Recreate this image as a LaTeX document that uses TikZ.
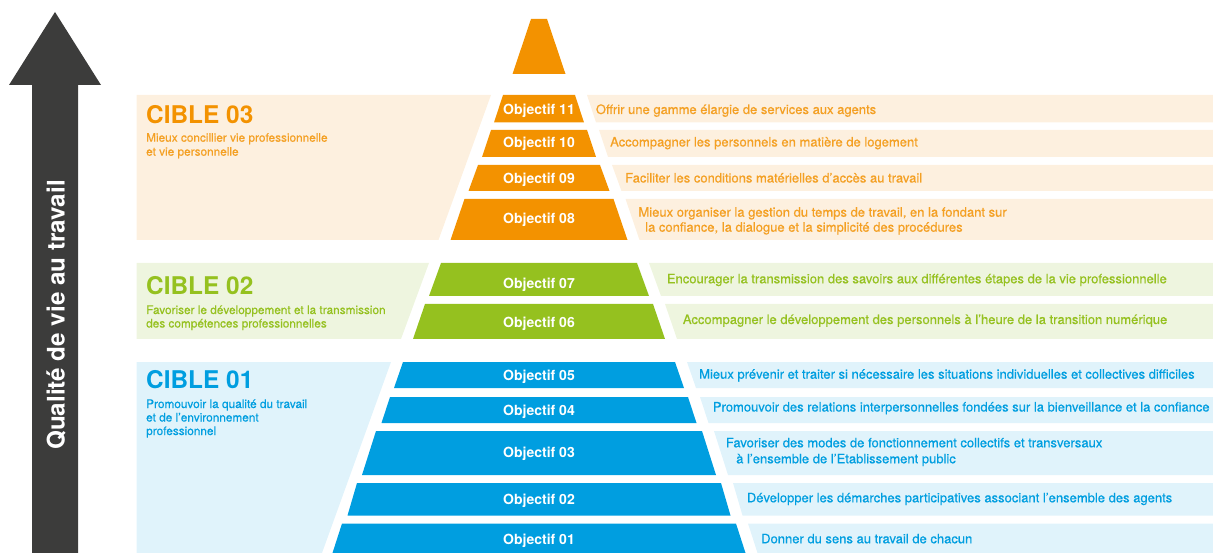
\documentclass[tikz,border=0pt]{standalone}
\usepackage{fontspec}
\setmainfont{TeX Gyre Heros}
\newfontfamily\medfont{TeX Gyre Heros}[FakeBold=0.5]
\definecolor{orD}{HTML}{F39200}
\definecolor{orT}{HTML}{F4A023}
\definecolor{orL}{HTML}{FDF0DF}
\definecolor{grD}{HTML}{95C11F}
\definecolor{grT}{HTML}{95C11F}
\definecolor{grL}{HTML}{EEF5DF}
\definecolor{blD}{HTML}{009EE0}
\definecolor{blT}{HTML}{009EE0}
\definecolor{blL}{HTML}{E0F3FB}
\definecolor{arrowgray}{HTML}{3C3C3B}
\tikzset{
  objlabel/.style={font=\fontsize{14}{16}\selectfont\bfseries, text=white, inner sep=0pt, anchor=base},
  rowtext/.style={font=\medfont\fontsize{13}{15}\selectfont, inner sep=0pt, anchor=base west},
  cibletitle/.style={font=\fontsize{24.4}{27}\selectfont\bfseries, inner sep=0pt, anchor=base west},
  cibletext/.style={font=\medfont\fontsize{11.8}{14}\selectfont, inner sep=0pt, anchor=base west},
}
% #1 name, #2 ytop, #3 ybot, #4 half width top, #5 half width bottom, #6 dark, #7 light, #8 label, #9 label baseline
\newcommand\pyrlayer[9]{%
  \fill[#6] ({539-#4},#2) -- ({539+#4},#2) -- ({539+#5},#3) -- ({539-#5},#3) -- cycle;
  \fill[#7] ({539+#4+12},#2) -- (1213,#2) -- (1213,#3) -- ({539+#5+12},#3) -- cycle;
  \node[objlabel] (#1) at (539,#9) {#8};
}
\begin{document}
\begin{tikzpicture}[x=1pt,y=-1pt]
\useasboundingbox (0,0) rectangle (1213,553);
% arrow
\fill[arrowgray] (55,12) -- (101,85) -- (78,85) -- (78,553) -- (32,553) -- (32,85) -- (9,85) -- cycle;
\node[font=\fontsize{24.2}{27}\selectfont\bfseries, text=white, rotate=90, inner sep=0pt] (axis) at (56,315) {Qualité de vie au travail};
% left bands
\fill[orL] (136.7,95) -- (491,95) -- (438.5,240) -- (136.7,240) -- cycle;
\fill[grL] (136.7,263) -- (429,263) -- (401,339) -- (136.7,339) -- cycle;
\fill[blL] (136.7,362) -- (391,362) -- (322,553) -- (136.7,553) -- cycle;
% apex
\fill[orD] (531,19) -- (547,19) -- (565.5,74) -- (512.5,74) -- cycle;
% layers
\pyrlayer{o11}{95}{122.5}{36}{45}{orD}{orL}{Objectif 11}{115}
\pyrlayer{o10}{130}{157}{48}{57}{orD}{orL}{Objectif 10}{147.3}
\pyrlayer{o09}{165}{191}{61}{70.5}{orD}{orL}{Objectif 09}{184}
\pyrlayer{o08}{199}{240}{74.5}{88.5}{orD}{orL}{Objectif 08}{224}
\pyrlayer{o07}{263}{296}{98}{110}{grD}{grL}{Objectif 07}{288.3}
\pyrlayer{o06}{304}{339}{114}{126}{grD}{grL}{Objectif 06}{327.3}
\pyrlayer{o05}{362}{388}{136}{145}{blD}{blL}{Objectif 05}{380.7}
\pyrlayer{o04}{397}{423}{149}{157.5}{blD}{blL}{Objectif 04}{415.7}
\pyrlayer{o03}{431}{475}{163}{177}{blD}{blL}{Objectif 03}{457.3}
\pyrlayer{o02}{483}{515.5}{182}{191.5}{blD}{blL}{Objectif 02}{504}
\pyrlayer{o01}{523.5}{553}{197}{206.5}{blD}{blL}{Objectif 01}{544.7}
% cible texts
\node[cibletitle, text=orD] (c3) at (146,123.3) {CIBLE 03};
\node[cibletext, text=orT] (c3a) at (146,141.7) {Mieux concillier vie professionnelle};
\node[cibletext, text=orT] (c3b) at (146,155.7) {et vie personnelle};
\node[cibletitle, text=grD] (c2) at (146,294.3) {CIBLE 02};
\node[cibletext, text=grT] (c2a) at (146,314) {Favoriser le développement et la transmission};
\node[cibletext, text=grT] (c2b) at (146,327.5) {des compétences professionnelles};
\node[cibletitle, text=blD] (c1) at (146,388.3) {CIBLE 01};
\node[cibletext, text=blT] (c1a) at (146,408) {Promouvoir la qualité du travail};
\node[cibletext, text=blT] (c1b) at (146,421.5) {et de l’environnement};
\node[cibletext, text=blT] (c1c) at (146,435) {professionnel};
% row texts
\node[rowtext, text=orT] (t11) at (595.7,114) {Offrir une gamme élargie de services aux agents};
\node[rowtext, text=orT] (t10) at (610,146.5) {Accompagner les personnels en matière de logement};
\node[rowtext, text=orT] (t09) at (625,182.5) {Faciliter les conditions matérielles d’accès au travail};
\node[rowtext, text=orT] (t08a) at (638.3,216.7) {Mieux organiser la gestion du temps de travail, en la fondant sur};
\node[rowtext, text=orT] (t08b) at (645,231.7) {la confiance, la dialogue et la simplicité des procédures};
\node[rowtext, text=grT] (t07) at (666.7,283.3) {Encourager la transmission des savoirs aux différentes étapes de la vie professionnelle};
\node[rowtext, text=grT] (t06) at (682.7,324) {Accompagner le développement des personnels à l’heure de la transition numérique};
\node[rowtext, text=blT] (t05) at (699,378.7) {Mieux prévenir et traiter si nécessaire les situations individuelles et collectives difficiles};
\node[rowtext, text=blT] (t04) at (712.7,411.5) {Promouvoir des relations interpersonnelles fondées sur la bienveillance et la confiance};
\node[rowtext, text=blT] (t03a) at (725.7,447.3) {Favoriser des modes de fonctionnement collectifs et transversaux};
\node[rowtext, text=blT] (t03b) at (736,463.3) {à l’ensemble de l’Etablissement public};
\node[rowtext, text=blT] (t02) at (746.7,502.3) {Développer les démarches participatives associant l’ensemble des agents};
\node[rowtext, text=blT] (t01) at (761,543.3) {Donner du sens au travail de chacun};
\end{tikzpicture}
\end{document}
